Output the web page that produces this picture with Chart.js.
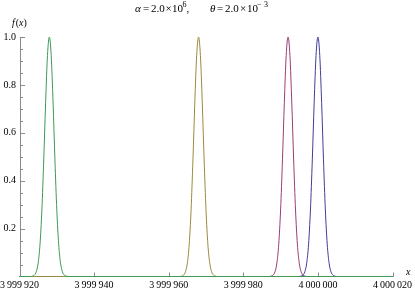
<!DOCTYPE html>
<html>
<head>
<meta charset="utf-8">
<script src="https://cdn.jsdelivr.net/npm/chart.js@4/dist/chart.umd.min.js"></script>
<style>
  html, body { margin: 0; padding: 0; background: #fff; }
  #wrap { width: 415px; height: 292px; }
</style>
</head>
<body>
<div id="wrap"><canvas id="c" width="415" height="292"></canvas></div>
<script>
// ---- data ----
const xMin = 3999920;
const xMax = 4000020;
const xTicks = [3999920, 3999940, 3999960, 3999980, 4000000, 4000020];
const yTicks = [0.2, 0.4, 0.6, 0.8, 1.0];
const seriesNames = ['blue', 'magenta', 'yellow', 'green'];
const peakCenters = [4000000, 3999992, 3999968, 3999928];
// offsets from each peak centre where values were read
const peakOffsets = [-5, -4.5, -4, -3.5, -3, -2.5, -2, -1.5, -1, -0.5, 0, 0.5, 1, 1.5, 2, 2.5, 3, 3.5, 4, 4.5, 5];
const blueValues    = [0, 0.002, 0.006, 0.02, 0.056, 0.135, 0.278, 0.487, 0.726, 0.923, 1.0, 0.923, 0.726, 0.487, 0.278, 0.135, 0.056, 0.02, 0.006, 0.002, 0];
const magentaValues = [0, 0.002, 0.006, 0.02, 0.056, 0.135, 0.278, 0.487, 0.726, 0.923, 1.0, 0.923, 0.726, 0.487, 0.278, 0.135, 0.056, 0.02, 0.006, 0.002, 0];
const yellowValues  = [0, 0.002, 0.006, 0.02, 0.056, 0.135, 0.278, 0.487, 0.726, 0.923, 1.0, 0.923, 0.726, 0.487, 0.278, 0.135, 0.056, 0.02, 0.006, 0.002, 0];
const greenValues   = [0, 0.002, 0.006, 0.02, 0.056, 0.135, 0.278, 0.487, 0.726, 0.923, 1.0, 0.923, 0.726, 0.487, 0.278, 0.135, 0.056, 0.02, 0.006, 0.002, 0];
const seriesValues = [blueValues, magentaValues, yellowValues, greenValues];
const seriesColors = ['rgb(63,61,153)', 'rgb(153,61,113)', 'rgb(153,139,61)', 'rgb(61,153,84)'];

function buildPoints(center, values) {
  const pts = [{ x: xMin, y: 0 }];
  peakOffsets.forEach((o, i) => pts.push({ x: center + o, y: values[i] }));
  pts.push({ x: xMax, y: 0 });
  return pts;
}

const datasets = seriesNames.map((name, i) => ({
  label: name,
  data: buildPoints(peakCenters[i], seriesValues[i]),
  borderColor: seriesColors[i],
  borderWidth: 1,
  pointRadius: 0,
  showLine: true,
  fill: false,
  cubicInterpolationMode: 'monotone',
  order: 3 - i,
  clip: false
}));

const SERIF = "'Liberation Serif', 'Times New Roman', serif";
const AXIS_COLOR = '#8a8a8a';

function groupDigits(v) {
  return String(Math.round(v)).replace(/\B(?=(\d{3})+(?!\d))/g, '\u2009');
}

const axesPlugin = {
  id: 'mmaAxes',
  beforeDatasetsDraw(chart) {
    const ctx = chart.ctx;
    const xs = chart.scales.x, ys = chart.scales.y;
    const left = Math.round(xs.getPixelForValue(xMin)) + 0.5;
    const base = Math.round(ys.getPixelForValue(0)) - 0.5;
    const right = xs.getPixelForValue(xMax);
    const top = ys.getPixelForValue(1.0);
    ctx.save();
    ctx.strokeStyle = AXIS_COLOR;
    ctx.lineWidth = 1;
    ctx.beginPath();
    ctx.moveTo(left, base); ctx.lineTo(right + 1, base);
    ctx.moveTo(left, base); ctx.lineTo(left, top);
    xTicks.forEach(v => {
      const px = Math.round(xs.getPixelForValue(v)) + 0.5;
      ctx.moveTo(px, base); ctx.lineTo(px, base - 4);
    });
    for (let k = 1; k <= 20; k++) {
      const v = k * 0.05;
      const py = Math.round(ys.getPixelForValue(v)) + 0.5;
      const major = (k % 4 === 0);
      ctx.moveTo(left, py); ctx.lineTo(left + (major ? 4.5 : 2.5), py);
    }
    ctx.stroke();
    ctx.restore();
  },
  afterDraw(chart) {
    const ctx = chart.ctx;
    ctx.save();
    ctx.fillStyle = '#000';
    ctx.textBaseline = 'alphabetic';
    ctx.textAlign = 'left';
    const reg = '11px ' + SERIF, ita = 'italic 11px ' + SERIF, sup = '8px ' + SERIF;
    const segs = [
      ['\u03B1', ita, 135, 11.5], ['=', reg, 143, 11.5], ['2.0', reg, 151, 11.5], ['\u00D7', reg, 165.5, 11.5],
      ['10', reg, 172, 11.5], ['6', sup, 182.5, 7], [',', reg, 186.5, 11.5],
      ['\u03B8', ita, 210, 11.5], ['=', reg, 217, 11.5], ['2.0', reg, 225, 11.5], ['\u00D7', reg, 240, 11.5],
      ['10', reg, 247, 11.5], ['\u2212', sup, 257, 7], ['3', sup, 264, 7]
    ];
    segs.forEach(s => { ctx.font = s[1]; ctx.fillText(s[0], s[2], s[3]); });
    const fx = [['f', 'italic 10px ' + SERIF], ['(', '10px ' + SERIF], ['x', 'italic 10px ' + SERIF], [')', '10px ' + SERIF]];
    let x = 12;
    fx.forEach(s => { ctx.font = s[1]; ctx.fillText(s[0], x, 26); x += ctx.measureText(s[0]).width + (s[0] === 'f' ? 1 : 0); });
    ctx.font = 'italic 10px ' + SERIF;
    ctx.fillText('x', 406, 275);
    ctx.restore();
  }
};

new Chart(document.getElementById('c'), {
  type: 'scatter',
  data: { datasets },
  options: {
    responsive: false,
    animation: false,
    devicePixelRatio: 1,
    layout: { padding: { left: 0, right: 22.5, top: 37, bottom: 0 } },
    plugins: { legend: { display: false }, tooltip: { enabled: false }, title: { display: false } },
    scales: {
      x: {
        type: 'linear', min: xMin, max: xMax,
        afterBuildTicks: (s) => { s.ticks = xTicks.map(v => ({ value: v })); },
        afterFit: (s) => { s.height = 15.5; s.paddingLeft = 0; s.paddingRight = 0; },
        grid: { display: false, drawTicks: false },
        border: { display: false },
        ticks: {
          maxRotation: 0, autoSkip: false, padding: 3,
          color: '#000', font: { family: SERIF, size: 10 },
          callback: (v) => groupDigits(v)
        }
      },
      y: {
        type: 'linear', min: 0, max: 1.0,
        afterBuildTicks: (s) => { s.ticks = yTicks.map(v => ({ value: v })); },
        afterFit: (s) => { s.width = 19.5; s.paddingTop = 0; s.paddingBottom = 0; },
        grid: { display: false, drawTicks: false },
        border: { display: false },
        ticks: {
          padding: 3.5, autoSkip: false,
          color: '#000', font: { family: SERIF, size: 10 },
          callback: (v) => Number(v).toFixed(1)
        }
      }
    }
  },
  plugins: [axesPlugin]
});
</script>
</body>
</html>
